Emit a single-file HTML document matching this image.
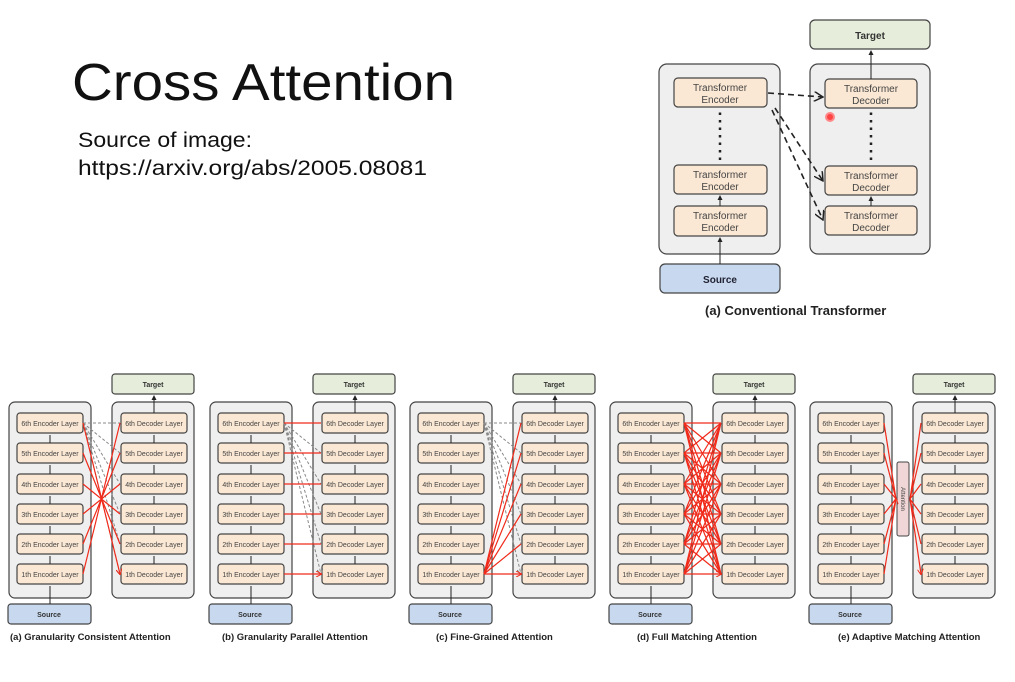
<!DOCTYPE html>
<html><head><meta charset="utf-8"><style>
html,body{margin:0;padding:0;background:#fff;}
svg{display:block;font-family:"Liberation Sans",sans-serif;}
.c{fill:#efefef;stroke:#444;stroke-width:1.2}
.l{fill:#fbe8d4;stroke:#444;stroke-width:1.2}
.tg{fill:#e6eedb;stroke:#444;stroke-width:1.2}
.sr{fill:#c8d9ef;stroke:#444;stroke-width:1.2}
.t{font-size:7px;fill:#444}
.b{font-size:7px;font-weight:bold;fill:#333}
.cap{font-size:9.5px;font-weight:bold;fill:#222}
.r{stroke:#f02a1a;stroke-width:1.2;fill:none;marker-end:url(#ar)}
.g{stroke:#888;stroke-width:1;stroke-dasharray:3,2;fill:none;marker-end:url(#ag)}
.k{stroke:#222;stroke-width:1;marker-end:url(#ak)}
</style></head><body>
<svg width="1015" height="682" viewBox="0 0 1015 682" xmlns="http://www.w3.org/2000/svg">
<defs>
<marker id="ar" markerUnits="userSpaceOnUse" markerWidth="6" markerHeight="6" refX="5" refY="3" orient="auto"><path d="M0,0 L6,3 L0,6" fill="none" stroke="#f02a1a" stroke-width="1"/></marker>
<marker id="ag" markerUnits="userSpaceOnUse" markerWidth="6" markerHeight="6" refX="5" refY="3" orient="auto"><path d="M0,0 L6,3 L0,6" fill="none" stroke="#777" stroke-width="1"/></marker>
<marker id="ak" markerUnits="userSpaceOnUse" markerWidth="5" markerHeight="5" refX="4" refY="2.5" orient="auto"><path d="M0,0 L5,2.5 L0,5z" fill="#222"/></marker>
<marker id="ad" markerUnits="userSpaceOnUse" markerWidth="10" markerHeight="10" refX="9" refY="5" orient="auto"><path d="M0,0 L9,5 L0,10" fill="none" stroke="#222" stroke-width="1.5"/></marker>
</defs>

<text x="72" y="100" font-size="52" textLength="383" lengthAdjust="spacingAndGlyphs" fill="#111">Cross Attention</text>
<text x="78" y="147" font-size="21" textLength="174" lengthAdjust="spacingAndGlyphs" fill="#111">Source of image:</text>
<text x="78" y="175" font-size="21" textLength="349" lengthAdjust="spacingAndGlyphs" fill="#111">https://arxiv.org/abs/2005.08081</text>

<!-- Top conventional -->
<rect x="810" y="20" width="120" height="29" rx="5" class="tg"/>
<text x="870" y="39" text-anchor="middle" font-size="10" font-weight="bold" fill="#333">Target</text>
<rect x="659" y="64" width="121" height="190" rx="8" class="c" stroke-width="1.5"/>
<rect x="810" y="64" width="120" height="190" rx="8" class="c" stroke-width="1.5"/>
<rect x="660" y="264" width="120" height="29" rx="5" class="sr"/>
<text x="720" y="283" text-anchor="middle" font-size="10" font-weight="bold" fill="#223">Source</text>
<g font-size="10" fill="#444" text-anchor="middle">
<rect x="674" y="78" width="93" height="29" rx="4" class="l"/><text x="720" y="91">Transformer</text><text x="720" y="103">Encoder</text>
<rect x="674" y="165" width="93" height="29" rx="4" class="l"/><text x="720" y="178">Transformer</text><text x="720" y="190">Encoder</text>
<rect x="674" y="206" width="93" height="30" rx="4" class="l"/><text x="720" y="219">Transformer</text><text x="720" y="231">Encoder</text>
<rect x="825" y="79" width="92" height="29" rx="4" class="l"/><text x="871" y="92">Transformer</text><text x="871" y="104">Decoder</text>
<rect x="825" y="166" width="92" height="29" rx="4" class="l"/><text x="871" y="179">Transformer</text><text x="871" y="191">Decoder</text>
<rect x="825" y="206" width="92" height="29" rx="4" class="l"/><text x="871" y="219">Transformer</text><text x="871" y="231">Decoder</text>
</g>
<line x1="720" y1="264" x2="720" y2="238" class="k"/>
<line x1="720" y1="206" x2="720" y2="196" class="k"/>
<line x1="720" y1="160" x2="720" y2="109" stroke="#222" stroke-width="2.5" stroke-dasharray="2.5,5"/>
<line x1="871" y1="206" x2="871" y2="197" class="k"/>
<line x1="871" y1="160" x2="871" y2="110" stroke="#222" stroke-width="2.5" stroke-dasharray="2.5,5"/>
<line x1="871" y1="79" x2="871" y2="51" class="k"/>
<g stroke="#222" stroke-width="1.6" stroke-dasharray="6,4" fill="none" marker-end="url(#ad)">
<line x1="768" y1="93" x2="823" y2="97"/>
<line x1="775" y1="108" x2="823" y2="181"/>
<line x1="772" y1="110" x2="823" y2="220"/>
</g>
<circle cx="830" cy="117" r="4" fill="#f44" stroke="#f88" stroke-width="2"/>
<text x="705" y="315" font-size="13" font-weight="bold" fill="#222">(a) Conventional Transformer</text>

<g id="p0">
<rect x="112" y="374" width="82" height="20" rx="3" class="tg"/><text x="153" y="387" text-anchor="middle" class="b">Target</text>
<rect x="9" y="402" width="82" height="196" rx="6" class="c"/>
<rect x="112" y="402" width="82" height="196" rx="6" class="c"/>
<rect x="8" y="604" width="83" height="20" rx="3" class="sr"/><text x="49" y="617" text-anchor="middle" class="b">Source</text>
<g class="t" text-anchor="middle">
<rect x="17" y="413" width="66" height="20" rx="3" class="l"/><text x="50" y="426">6th Encoder Layer</text>
<rect x="17" y="443" width="66" height="20" rx="3" class="l"/><text x="50" y="456">5th Encoder Layer</text>
<rect x="17" y="474" width="66" height="20" rx="3" class="l"/><text x="50" y="487">4th Encoder Layer</text>
<rect x="17" y="504" width="66" height="20" rx="3" class="l"/><text x="50" y="517">3th Encoder Layer</text>
<rect x="17" y="534" width="66" height="20" rx="3" class="l"/><text x="50" y="547">2th Encoder Layer</text>
<rect x="17" y="564" width="66" height="20" rx="3" class="l"/><text x="50" y="577">1th Encoder Layer</text>
<rect x="121" y="413" width="66" height="20" rx="3" class="l"/><text x="154" y="426">6th Decoder Layer</text>
<rect x="121" y="443" width="66" height="20" rx="3" class="l"/><text x="154" y="456">5th Decoder Layer</text>
<rect x="121" y="474" width="66" height="20" rx="3" class="l"/><text x="154" y="487">4th Decoder Layer</text>
<rect x="121" y="504" width="66" height="20" rx="3" class="l"/><text x="154" y="517">3th Decoder Layer</text>
<rect x="121" y="534" width="66" height="20" rx="3" class="l"/><text x="154" y="547">2th Decoder Layer</text>
<rect x="121" y="564" width="66" height="20" rx="3" class="l"/><text x="154" y="577">1th Decoder Layer</text>
</g>
<path d="M50 604V586M50 564V556M50 534V526M50 504V496M50 474V465M50 443V435M154 564V556M154 534V526M154 504V496M154 474V465M154 443V435M154 413V396" class="k"/>
</g>
<g transform="translate(201,0)">
<rect x="112" y="374" width="82" height="20" rx="3" class="tg"/><text x="153" y="387" text-anchor="middle" class="b">Target</text>
<rect x="9" y="402" width="82" height="196" rx="6" class="c"/>
<rect x="112" y="402" width="82" height="196" rx="6" class="c"/>
<rect x="8" y="604" width="83" height="20" rx="3" class="sr"/><text x="49" y="617" text-anchor="middle" class="b">Source</text>
<g class="t" text-anchor="middle">
<rect x="17" y="413" width="66" height="20" rx="3" class="l"/><text x="50" y="426">6th Encoder Layer</text>
<rect x="17" y="443" width="66" height="20" rx="3" class="l"/><text x="50" y="456">5th Encoder Layer</text>
<rect x="17" y="474" width="66" height="20" rx="3" class="l"/><text x="50" y="487">4th Encoder Layer</text>
<rect x="17" y="504" width="66" height="20" rx="3" class="l"/><text x="50" y="517">3th Encoder Layer</text>
<rect x="17" y="534" width="66" height="20" rx="3" class="l"/><text x="50" y="547">2th Encoder Layer</text>
<rect x="17" y="564" width="66" height="20" rx="3" class="l"/><text x="50" y="577">1th Encoder Layer</text>
<rect x="121" y="413" width="66" height="20" rx="3" class="l"/><text x="154" y="426">6th Decoder Layer</text>
<rect x="121" y="443" width="66" height="20" rx="3" class="l"/><text x="154" y="456">5th Decoder Layer</text>
<rect x="121" y="474" width="66" height="20" rx="3" class="l"/><text x="154" y="487">4th Decoder Layer</text>
<rect x="121" y="504" width="66" height="20" rx="3" class="l"/><text x="154" y="517">3th Decoder Layer</text>
<rect x="121" y="534" width="66" height="20" rx="3" class="l"/><text x="154" y="547">2th Decoder Layer</text>
<rect x="121" y="564" width="66" height="20" rx="3" class="l"/><text x="154" y="577">1th Decoder Layer</text>
</g>
<path d="M50 604V586M50 564V556M50 534V526M50 504V496M50 474V465M50 443V435M154 564V556M154 534V526M154 504V496M154 474V465M154 443V435M154 413V396" class="k"/>
</g>
<g transform="translate(401,0)">
<rect x="112" y="374" width="82" height="20" rx="3" class="tg"/><text x="153" y="387" text-anchor="middle" class="b">Target</text>
<rect x="9" y="402" width="82" height="196" rx="6" class="c"/>
<rect x="112" y="402" width="82" height="196" rx="6" class="c"/>
<rect x="8" y="604" width="83" height="20" rx="3" class="sr"/><text x="49" y="617" text-anchor="middle" class="b">Source</text>
<g class="t" text-anchor="middle">
<rect x="17" y="413" width="66" height="20" rx="3" class="l"/><text x="50" y="426">6th Encoder Layer</text>
<rect x="17" y="443" width="66" height="20" rx="3" class="l"/><text x="50" y="456">5th Encoder Layer</text>
<rect x="17" y="474" width="66" height="20" rx="3" class="l"/><text x="50" y="487">4th Encoder Layer</text>
<rect x="17" y="504" width="66" height="20" rx="3" class="l"/><text x="50" y="517">3th Encoder Layer</text>
<rect x="17" y="534" width="66" height="20" rx="3" class="l"/><text x="50" y="547">2th Encoder Layer</text>
<rect x="17" y="564" width="66" height="20" rx="3" class="l"/><text x="50" y="577">1th Encoder Layer</text>
<rect x="121" y="413" width="66" height="20" rx="3" class="l"/><text x="154" y="426">6th Decoder Layer</text>
<rect x="121" y="443" width="66" height="20" rx="3" class="l"/><text x="154" y="456">5th Decoder Layer</text>
<rect x="121" y="474" width="66" height="20" rx="3" class="l"/><text x="154" y="487">4th Decoder Layer</text>
<rect x="121" y="504" width="66" height="20" rx="3" class="l"/><text x="154" y="517">3th Decoder Layer</text>
<rect x="121" y="534" width="66" height="20" rx="3" class="l"/><text x="154" y="547">2th Decoder Layer</text>
<rect x="121" y="564" width="66" height="20" rx="3" class="l"/><text x="154" y="577">1th Decoder Layer</text>
</g>
<path d="M50 604V586M50 564V556M50 534V526M50 504V496M50 474V465M50 443V435M154 564V556M154 534V526M154 504V496M154 474V465M154 443V435M154 413V396" class="k"/>
</g>
<g transform="translate(601,0)">
<rect x="112" y="374" width="82" height="20" rx="3" class="tg"/><text x="153" y="387" text-anchor="middle" class="b">Target</text>
<rect x="9" y="402" width="82" height="196" rx="6" class="c"/>
<rect x="112" y="402" width="82" height="196" rx="6" class="c"/>
<rect x="8" y="604" width="83" height="20" rx="3" class="sr"/><text x="49" y="617" text-anchor="middle" class="b">Source</text>
<g class="t" text-anchor="middle">
<rect x="17" y="413" width="66" height="20" rx="3" class="l"/><text x="50" y="426">6th Encoder Layer</text>
<rect x="17" y="443" width="66" height="20" rx="3" class="l"/><text x="50" y="456">5th Encoder Layer</text>
<rect x="17" y="474" width="66" height="20" rx="3" class="l"/><text x="50" y="487">4th Encoder Layer</text>
<rect x="17" y="504" width="66" height="20" rx="3" class="l"/><text x="50" y="517">3th Encoder Layer</text>
<rect x="17" y="534" width="66" height="20" rx="3" class="l"/><text x="50" y="547">2th Encoder Layer</text>
<rect x="17" y="564" width="66" height="20" rx="3" class="l"/><text x="50" y="577">1th Encoder Layer</text>
<rect x="121" y="413" width="66" height="20" rx="3" class="l"/><text x="154" y="426">6th Decoder Layer</text>
<rect x="121" y="443" width="66" height="20" rx="3" class="l"/><text x="154" y="456">5th Decoder Layer</text>
<rect x="121" y="474" width="66" height="20" rx="3" class="l"/><text x="154" y="487">4th Decoder Layer</text>
<rect x="121" y="504" width="66" height="20" rx="3" class="l"/><text x="154" y="517">3th Decoder Layer</text>
<rect x="121" y="534" width="66" height="20" rx="3" class="l"/><text x="154" y="547">2th Decoder Layer</text>
<rect x="121" y="564" width="66" height="20" rx="3" class="l"/><text x="154" y="577">1th Decoder Layer</text>
</g>
<path d="M50 604V586M50 564V556M50 534V526M50 504V496M50 474V465M50 443V435M154 564V556M154 534V526M154 504V496M154 474V465M154 443V435M154 413V396" class="k"/>
</g>
<g transform="translate(801,0)">
<rect x="112" y="374" width="82" height="20" rx="3" class="tg"/><text x="153" y="387" text-anchor="middle" class="b">Target</text>
<rect x="9" y="402" width="82" height="196" rx="6" class="c"/>
<rect x="112" y="402" width="82" height="196" rx="6" class="c"/>
<rect x="8" y="604" width="83" height="20" rx="3" class="sr"/><text x="49" y="617" text-anchor="middle" class="b">Source</text>
<g class="t" text-anchor="middle">
<rect x="17" y="413" width="66" height="20" rx="3" class="l"/><text x="50" y="426">6th Encoder Layer</text>
<rect x="17" y="443" width="66" height="20" rx="3" class="l"/><text x="50" y="456">5th Encoder Layer</text>
<rect x="17" y="474" width="66" height="20" rx="3" class="l"/><text x="50" y="487">4th Encoder Layer</text>
<rect x="17" y="504" width="66" height="20" rx="3" class="l"/><text x="50" y="517">3th Encoder Layer</text>
<rect x="17" y="534" width="66" height="20" rx="3" class="l"/><text x="50" y="547">2th Encoder Layer</text>
<rect x="17" y="564" width="66" height="20" rx="3" class="l"/><text x="50" y="577">1th Encoder Layer</text>
<rect x="121" y="413" width="66" height="20" rx="3" class="l"/><text x="154" y="426">6th Decoder Layer</text>
<rect x="121" y="443" width="66" height="20" rx="3" class="l"/><text x="154" y="456">5th Decoder Layer</text>
<rect x="121" y="474" width="66" height="20" rx="3" class="l"/><text x="154" y="487">4th Decoder Layer</text>
<rect x="121" y="504" width="66" height="20" rx="3" class="l"/><text x="154" y="517">3th Decoder Layer</text>
<rect x="121" y="534" width="66" height="20" rx="3" class="l"/><text x="154" y="547">2th Decoder Layer</text>
<rect x="121" y="564" width="66" height="20" rx="3" class="l"/><text x="154" y="577">1th Decoder Layer</text>
</g>
<path d="M50 604V586M50 564V556M50 534V526M50 504V496M50 474V465M50 443V435M154 564V556M154 534V526M154 504V496M154 474V465M154 443V435M154 413V396" class="k"/>
</g>

<path class="g" d="M83 423L120 423M83 423L120 453M83 423L120 484M83 423L120 514M83 423L120 544M83 423L120 574"/>
<path class="r" d="M83 574L120 423M83 544L120 453M83 514L120 484M83 484L120 514M83 453L120 544M83 423L120 574"/>
<path class="g" d="M284 423L321 423M284 423L321 453M284 423L321 484M284 423L321 514M284 423L321 544M284 423L321 574"/>
<path class="r" d="M284 423L321 423M284 453L321 453M284 484L321 484M284 514L321 514M284 544L321 544M284 574L321 574"/>
<path class="g" d="M484 423L521 423M484 423L521 453M484 423L521 484M484 423L521 514M484 423L521 544M484 423L521 574"/>
<path class="r" d="M484 574L521 423M484 574L521 453M484 574L521 484M484 574L521 514M484 574L521 544M484 574L521 574"/>
<path class="r" d="M684 423L721 423M684 423L721 453M684 423L721 484M684 423L721 514M684 423L721 544M684 423L721 574
M684 453L721 423M684 453L721 453M684 453L721 484M684 453L721 514M684 453L721 544M684 453L721 574
M684 484L721 423M684 484L721 453M684 484L721 484M684 484L721 514M684 484L721 544M684 484L721 574
M684 514L721 423M684 514L721 453M684 514L721 484M684 514L721 514M684 514L721 544M684 514L721 574
M684 544L721 423M684 544L721 453M684 544L721 484M684 544L721 514M684 544L721 544M684 544L721 574
M684 574L721 423M684 574L721 453M684 574L721 484M684 574L721 514M684 574L721 544M684 574L721 574"/>
<rect x="897" y="462" width="12" height="74" rx="2" fill="#f0d6d6" stroke="#444" stroke-width="1"/>
<text transform="translate(901,499) rotate(90)" text-anchor="middle" font-size="6" fill="#444">Attention</text>
<path class="r" d="M884 423L896 499M884 453L896 499M884 484L896 499M884 514L896 499M884 544L896 499M884 574L896 499"/>
<path class="r" d="M910 499L921 423M910 499L921 453M910 499L921 484M910 499L921 514M910 499L921 544M910 499L921 574"/>

<text x="10" y="640" class="cap">(a) Granularity Consistent Attention</text>
<text x="222" y="640" class="cap">(b) Granularity Parallel Attention</text>
<text x="436" y="640" class="cap">(c) Fine-Grained Attention</text>
<text x="637" y="640" class="cap">(d) Full Matching Attention</text>
<text x="838" y="640" class="cap">(e) Adaptive Matching Attention</text>
</svg>
</body></html>
